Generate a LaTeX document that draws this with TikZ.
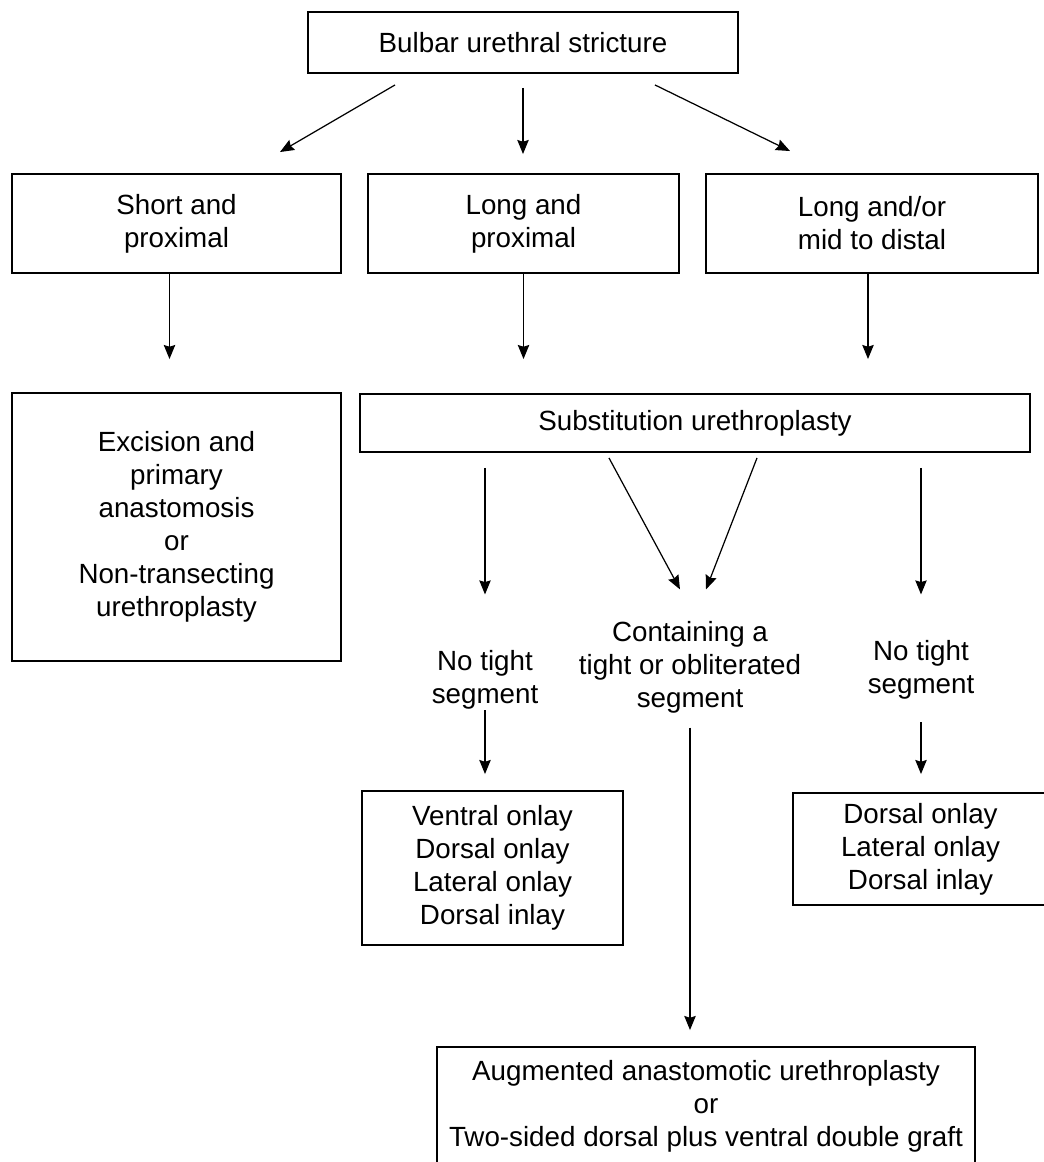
\documentclass[tikz,border=0pt]{standalone}
\usepackage{fontspec}
\setmainfont{Liberation Sans}
\usepackage{tikz}
\usetikzlibrary{arrows.meta,positioning,calc}

\begin{document}
\begin{tikzpicture}[->, >={Stealth[length=8pt,width=6.5pt,inset=1pt]}, line width=0.7pt, font=\fontsize{15.8}{18.8}\selectfont]
	\tikzstyle{box}=[draw=black,line width=1.1pt,align=center,inner sep=0pt,text=black]
	\tikzstyle{lbl}=[align=center,inner sep=0pt,text=black]
	\useasboundingbox (0,0) rectangle (20.86,-23.24);
	\node[box, minimum width=8.6cm, minimum height=1.22cm]  at (10.46,-0.85)  (top)  {Bulbar urethral stricture};
	\node[box, minimum width=6.58cm, minimum height=1.98cm] at (3.53,-4.47)   (short) {Short and\\proximal};
	\node[box, minimum width=6.22cm, minimum height=1.98cm] at (10.47,-4.47)  (longp) {Long and\\proximal};
	\node[box, minimum width=6.64cm, minimum height=1.98cm] at (17.44,-4.47)  (longm) {Long and/or\\mid to distal};
	\node[box, minimum width=6.58cm, minimum height=5.36cm] at (3.53,-10.54)  (excision) {Excision and\\primary\\anastomosis\\or\\Non-transecting\\urethroplasty};
	\node[box, minimum width=13.4cm, minimum height=1.16cm] at (13.9,-8.46)   (subst) {Substitution urethroplasty};
	\node[lbl] at (9.7,-13.6)   (notight1) {No tight\\segment};
	\node[lbl] at (13.8,-13.34) (contain)  {Containing a\\tight or obliterated\\segment};
	\node[lbl] at (18.42,-13.4) (notight2) {No tight\\segment};
	\node[box, minimum width=5.22cm, minimum height=3.08cm] at (9.85,-17.36)  (ventral) {Ventral onlay\\Dorsal onlay\\Lateral onlay\\Dorsal inlay};
	\node[box, minimum width=5.1cm, minimum height=2.24cm]  at (18.41,-16.98) (dorsal) {Dorsal onlay\\Lateral onlay\\Dorsal inlay};
	\node[box, minimum width=10.76cm, minimum height=2.36cm] at (14.12,-22.12) (augment) {Augmented anastomotic urethroplasty\\or\\Two-sided dorsal plus ventral double graft};

	% first split
	\draw ([shift={(-2.56,-0.22)}]top.south) -- ([shift={(2.07,0.42)}]short.north);
	\draw[shorten <=0.28cm, shorten >=0.38cm] (top.south) -- (top.south |- longp.north);
	\draw ([shift={(2.64,-0.22)}]top.south) -- ([shift={(-1.64,0.44)}]longm.north);

	\draw[shorten >=0.66cm] ([xshift=-0.14cm]short.south) -- ([xshift=-0.14cm]short.south |- excision.north);
	\draw[shorten >=0.68cm] (longp.south) -- (longp.south |- subst.north);
	\draw[shorten >=0.68cm] ([xshift=-0.08cm]longm.south) -- ([xshift=-0.08cm]longm.south |- subst.north);

	% substitution branches
	\draw[shorten <=0.3cm, shorten >=1.11cm] (subst.south -| notight1) -- (notight1.north);
	\draw ([shift={(-1.72,-0.1)}]subst.south) -- ([shift={(-0.2,0.62)}]contain.north);
	\draw ([shift={(1.24,-0.1)}]subst.south) -- ([shift={(0.32,0.62)}]contain.north);
	\draw[shorten <=0.3cm, shorten >=0.91cm] (subst.south -| notight2) -- (notight2.north);

	\draw[shorten >=0.32cm] (notight1.south) -- (notight1.south |- ventral.north);
	\draw[shorten <=0.28cm, shorten >=0.32cm] (contain.south) -- (contain.south |- augment.north);
	\draw[shorten <=0.44cm, shorten >=0.36cm] (notight2.south) -- (notight2.south |- dorsal.north);
\end{tikzpicture}
\end{document}
